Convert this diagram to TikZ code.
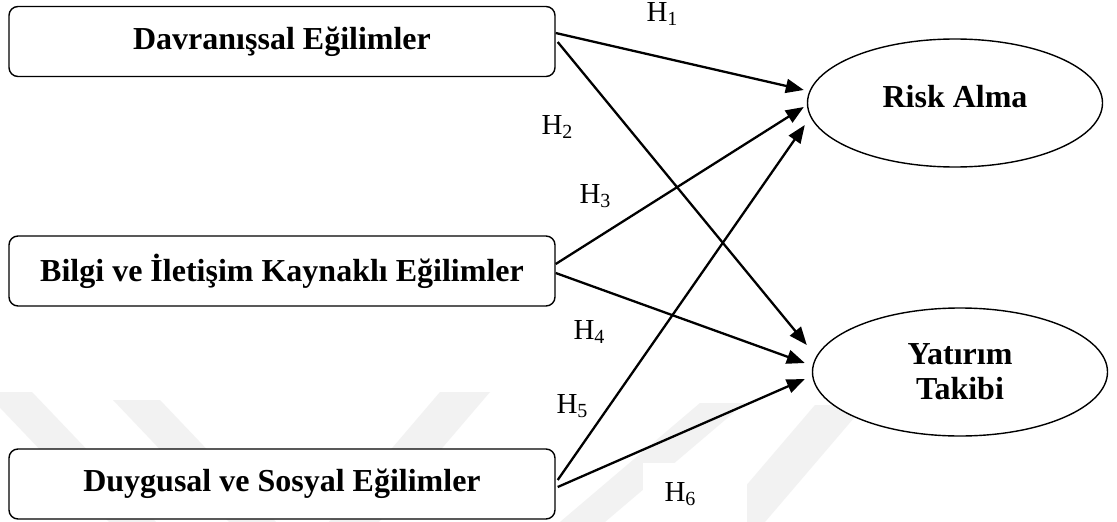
\documentclass[tikz,border=0pt]{standalone}
\usepackage{fontspec}
\setmainfont{Liberation Serif}
\usetikzlibrary{arrows.meta,shapes.geometric}
\tikzset{
 box/.style={draw, line width=1.4pt, rounded corners=9pt, fill=white, minimum width=546pt, minimum height=70pt, inner sep=0pt, font=\bfseries\fontsize{32}{36}\selectfont},
 oval/.style={draw, ellipse, line width=1.4pt, fill=white, minimum width=295pt, minimum height=128pt, inner sep=0pt},
 otext/.style={font=\bfseries\fontsize{32}{35}\selectfont, align=center, inner sep=0pt},
 hlab/.style={font=\fontsize{29}{30}\selectfont, inner sep=0pt},
 arr/.style={line width=2.3pt, -{Triangle[length=18pt,width=14pt]}},
 wm/.style={fill=black!5, draw=none}
}
\newcommand{\hyp}[1]{H\raisebox{-0.12em}{\fontsize{20}{20}\selectfont #1}}
\begin{document}
\begin{tikzpicture}[x=1pt,y=-1pt]
\useasboundingbox (0,0) rectangle (1117,522);
\fill[white] (0,0) rectangle (1117,522);
\begin{scope}
\clip (0,0) rectangle (1117,522);
\fill[wm] (-15,392) -- (32,392) -- (156,522) -- (109,522) -- cycle;
\fill[wm] (113,400) -- (160,400) -- (276,522) -- (229,522) -- cycle;
\fill[wm] (440,392) -- (490,392) -- (379,522) -- (329,522) -- cycle;
\fill[wm] (700,403) -- (745,403) -- (605,522) -- (560,522) -- cycle;
\fill[wm] (815,405) -- (865,405) -- (765,522) -- (715,522) -- cycle;
\end{scope}
\fill[white] (535,380) rectangle (610,442);
\fill[white] (643,463) rectangle (747,522);

\node[box] (b1) at (282,41.5) {Davranışsal Eğilimler};
\node[box] (b2) at (282,271) {Bilgi ve İletişim Kaynaklı Eğilimler};
\node[box] (b3) at (282,484) {Duygusal ve Sosyal Eğilimler};

\node[oval] (risk) at (955,103) {};
\node[otext] (risktxt) at ([yshift=6pt]risk.center) {Risk Alma};
\node[oval] (yat) at (960,372) {};
\node[otext] (yattxt) at (yat.center) {Yatırım\\Takibi};

\node[hlab] (h1) at (662,14) {\hyp{1}};
\node[hlab] (h2) at (557,127) {\hyp{2}};
\node[hlab] (h3) at (595,196) {\hyp{3}};
\node[hlab] (h4) at (589,332) {\hyp{4}};
\node[hlab] (h5) at (572,406) {\hyp{5}};
\node[hlab] (h6) at (680,494) {\hyp{6}};

\draw[arr] ([yshift=8.5pt]b1.east) -- ([xshift=-3pt,yshift=13pt]risk.west);
\draw[arr] ([xshift=2pt,yshift=-0.5pt]b1.east) -- ([xshift=-5pt,yshift=27pt]yat.west);
\draw[arr] ([yshift=7pt]b2.east) -- ([xshift=-3pt,yshift=-4pt]risk.west);
\draw[arr] ([yshift=-2pt]b2.east) -- ([xshift=-7pt,yshift=9pt]yat.west);
\draw[arr] ([xshift=2pt,yshift=4pt]b3.east) -- ([xshift=-2pt,yshift=-22pt]risk.west);
\draw[arr] ([xshift=2pt,yshift=-3pt]b3.east) -- ([xshift=-7pt,yshift=-7pt]yat.west);
\end{tikzpicture}
\end{document}
